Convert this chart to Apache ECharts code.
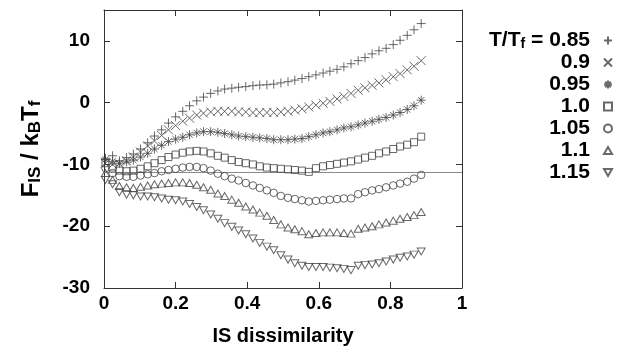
<!DOCTYPE html>
<html><head><meta charset="utf-8">
<script src="https://cdn.jsdelivr.net/npm/echarts@6/dist/echarts.min.js"></script>
<style>html,body{margin:0;padding:0;background:#fff}#c{width:626px;height:358px}</style>
</head><body><div id="c"></div>
<script>
// IS dissimilarity (x positions of the sampled points)
const dissimilarity = [0.004,0.024,0.043,0.063,0.082,0.102,0.122,0.141,0.161,0.180,
  0.200,0.220,0.239,0.259,0.278,0.298,0.318,0.337,0.357,0.376,
  0.396,0.416,0.435,0.455,0.474,0.494,0.514,0.533,0.553,0.572,
  0.592,0.612,0.631,0.651,0.670,0.690,0.710,0.729,0.749,0.768,
  0.788,0.808,0.827,0.847,0.866,0.886];
const temps = ['0.85','0.9','0.95','1.0','1.05','1.1','1.15'];
const f085 = [-9.0,-8.6,-9.4,-8.9,-8.3,-7.5,-6.5,-5.4,-4.4,-3.3,
  -2.3,-1.4,-0.5,0.3,0.9,1.5,1.9,2.2,2.35,2.5,
  2.6,2.75,2.85,2.9,3.0,3.2,3.4,3.65,3.9,4.2,
  4.5,4.8,5.1,5.4,5.8,6.3,6.8,7.3,7.9,8.4,
  8.8,9.4,10.1,10.9,11.8,12.8];
const f090 = [-9.8,-10.0,-9.9,-9.4,-8.8,-8.0,-7.0,-6.2,-5.3,-4.4,
  -3.7,-3.0,-2.5,-2.0,-1.7,-1.5,-1.4,-1.4,-1.4,-1.5,
  -1.5,-1.6,-1.6,-1.6,-1.6,-1.5,-1.4,-1.2,-1.0,-0.7,
  -0.4,-0.1,0.2,0.6,1.0,1.5,2.0,2.4,2.8,3.2,
  3.7,4.2,4.7,5.3,5.9,6.8];
const f095 = [-9.2,-9.5,-9.8,-9.6,-9.3,-8.8,-8.2,-7.5,-6.9,-6.3,
  -5.9,-5.6,-5.2,-4.9,-4.7,-4.7,-4.8,-5.0,-5.2,-5.4,
  -5.5,-5.6,-5.7,-5.8,-6.0,-6.0,-6.0,-5.9,-5.8,-5.5,
  -5.2,-4.9,-4.7,-4.4,-4.1,-3.9,-3.6,-3.3,-3.0,-2.7,
  -2.4,-2.0,-1.6,-1.1,-0.5,0.4];
const f100 = [-9.8,-10.5,-11.0,-11.1,-11.0,-10.7,-10.3,-9.8,-9.3,-8.8,
  -8.4,-8.1,-7.9,-7.8,-7.9,-8.2,-8.6,-8.9,-9.3,-9.6,
  -9.8,-10.0,-10.3,-10.5,-10.6,-10.7,-10.8,-10.9,-11.0,-11.2,
  -10.6,-10.3,-10.1,-9.9,-9.7,-9.5,-9.2,-8.9,-8.6,-8.2,
  -7.9,-7.5,-7.1,-6.8,-6.4,-5.5];
const f105 = [-10.6,-11.4,-11.9,-12.0,-12.0,-11.8,-11.6,-11.4,-11.1,-10.9,
  -10.7,-10.5,-10.4,-10.4,-10.6,-11.0,-11.5,-11.9,-12.3,-12.6,
  -13.0,-13.4,-13.8,-14.2,-14.6,-15.1,-15.4,-15.6,-15.8,-16.0,
  -15.9,-15.8,-15.7,-15.6,-15.5,-15.5,-14.8,-14.5,-14.2,-14.0,
  -13.7,-13.4,-13.1,-12.8,-12.3,-11.7];
const f110 = [-11.4,-12.5,-13.5,-13.7,-13.8,-13.6,-13.4,-13.2,-13.1,-13.0,
  -12.9,-12.9,-13.0,-13.3,-13.7,-14.1,-14.7,-15.1,-15.7,-16.2,
  -16.8,-17.3,-17.8,-18.3,-19.0,-19.7,-20.2,-20.5,-20.8,-21.3,
  -21.1,-21.0,-21.0,-21.0,-21.1,-21.2,-20.4,-20.2,-20.0,-19.7,
  -19.4,-19.1,-18.8,-18.5,-18.2,-17.7];
const f115 = [-12.5,-13.2,-14.5,-14.9,-15.0,-15.2,-15.2,-15.3,-15.5,-15.7,
  -15.8,-16.0,-16.4,-16.9,-17.4,-18.1,-18.8,-19.5,-20.1,-20.7,
  -21.3,-22.0,-22.7,-23.3,-23.9,-24.7,-25.4,-26.0,-26.4,-26.6,
  -26.6,-26.6,-26.7,-26.8,-26.9,-27.1,-26.4,-26.3,-26.2,-26.0,
  -25.7,-25.4,-25.1,-24.9,-24.6,-24.1];
const refLevel = -11.3;
const seriesValues = [f085, f090, f095, f100, f105, f110, f115];

const FONT = '"Liberation Sans", Arial, Helvetica, sans-serif';
const MK = '#444';
const symbols = [
  {symbol: 'path://M0,5L10,5M5,0L5,10', size: 9},
  {symbol: 'path://M0,0L10,10M10,0L0,10', size: 9},
  {symbol: 'path://M0,5L10,5M5,0L5,10M1.5,1.5L8.5,8.5M8.5,1.5L1.5,8.5', size: 9},
  {symbol: 'rect', size: 7},
  {symbol: 'circle', size: 7.5},
  {symbol: 'path://M5,0L10,8.66L0,8.66Z', size: [8, 7]},
  {symbol: 'path://M0,0L10,0L5,8.66Z', size: [8, 7]}
];

const series = temps.map((t, k) => ({
  name: t,
  type: 'scatter',
  symbol: symbols[k].symbol,
  symbolSize: symbols[k].size,
  itemStyle: {color: 'transparent', borderColor: MK, borderWidth: 1},
  emphasis: {disabled: true},
  data: dissimilarity.map((x, i) => [x, seriesValues[k][i]]),
  z: 3
}));
series.push({
  name: 'ref', type: 'line', silent: true, symbol: 'none',
  lineStyle: {color: '#888', width: 1},
  data: [[0, refLevel], [1, refLevel]], z: 2
});

const axisLine = {show: true, onZero: false, lineStyle: {color: '#333', width: 1}};
const tick = {show: true, inside: true, length: 6, lineStyle: {color: '#333', width: 1}};
const labelStyle = {fontFamily: FONT, fontSize: 19, fontWeight: 'bold', color: '#000'};

const chart = echarts.init(document.getElementById('c'), null, {renderer: 'canvas'});
chart.setOption({
  animation: false,
  backgroundColor: '#fff',
  grid: {left: 104, right: 164, top: 10, bottom: 70, containLabel: false},
  xAxis: [
    {type: 'value', min: 0, max: 1, interval: 0.2, position: 'bottom',
     axisLine, axisTick: tick, splitLine: {show: false},
     axisLabel: Object.assign({margin: 6}, labelStyle),
     name: 'IS dissimilarity', nameLocation: 'middle', nameGap: 38,
     nameTextStyle: {fontFamily: FONT, fontSize: 20, fontWeight: 'bold', color: '#000'}},
    {type: 'value', min: 0, max: 1, interval: 0.2, position: 'top',
     axisLine, axisTick: tick, splitLine: {show: false}, axisLabel: {show: false}}
  ],
  yAxis: [
    {type: 'value', min: -30, max: 15, interval: 10, position: 'left',
     axisLine, axisTick: tick, splitLine: {show: false},
     axisLabel: Object.assign({margin: 14, showMaxLabel: false}, labelStyle),
     name: '{a|F}{s|IS}{a| / k}{s|B}{a|T}{s|f}', nameLocation: 'middle', nameRotate: 90, nameGap: 60,
     nameTextStyle: {
       fontFamily: FONT, color: '#000',
       rich: {
         a: {fontFamily: FONT, fontSize: 24, fontWeight: 'bold', color: '#000', lineHeight: 26},
         s: {fontFamily: FONT, fontSize: 17, fontWeight: 'bold', color: '#000', lineHeight: 18, padding: [9, 0, 0, 0]}
       }
     }},
    {type: 'value', min: -30, max: 15, interval: 10, position: 'right',
     axisLine, axisTick: tick, splitLine: {show: false}, axisLabel: {show: false}}
  ],
  legend: {
    data: temps,
    orient: 'vertical', align: 'right', right: 13, top: 30, padding: 0,
    itemWidth: 8, itemHeight: 8, itemGap: 1, selectedMode: false,
    formatter: name => name === temps[0]
      ? '{b|T/T}{s|f}{e| = ' + name + '}'
      : '{e|' + name + '}',
    textStyle: {
      width: 130, fontFamily: FONT, color: '#000',
      rich: {
        b: {fontFamily: FONT, fontSize: 21, fontWeight: 'bold', color: '#000', align: 'right', lineHeight: 20},
        s: {fontFamily: FONT, fontSize: 14, fontWeight: 'bold', color: '#000', align: 'right', lineHeight: 13, padding: [7, 0, 0, 0]},
        e: {fontFamily: FONT, fontSize: 21, fontWeight: 'bold', color: '#000', align: 'right', lineHeight: 20, padding: [0, 9, 0, 0]}
      }
    }
  },
  series
});
</script></body></html>
